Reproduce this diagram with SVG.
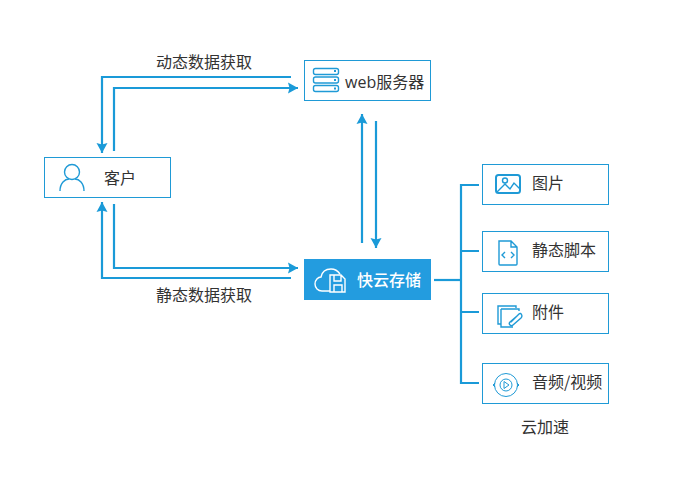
<svg xmlns="http://www.w3.org/2000/svg" width="682" height="479" viewBox="0 0 682 479">
<style>
text{font-family:"Open Sans","Noto Sans CJK SC",sans-serif;font-size:16px;fill:#333}
.cjk{font-family:"Noto Sans CJK SC",sans-serif}
.box{fill:#fff;stroke:#1f9ad6;stroke-width:1}
.c{fill:none;stroke:#1a9ad8;stroke-width:2.200}
.i{fill:none;stroke:#1f9ad6;stroke-width:1.400}
.w{fill:none;stroke:#fff;stroke-width:1.400}
</style>
<defs>
<marker id="a" markerUnits="userSpaceOnUse" markerWidth="12" markerHeight="12" refX="10" refY="6" orient="auto"><path d="M0 .5L10 6L0 11.500L1.500 6Z" fill="#1a9ad8"/></marker>
</defs>
<rect width="682" height="479" fill="#fff"/>
<g id="connectors">
<path class="c" d="M291 77H102V153" marker-end="url(#a)"/>
<path class="c" d="M114 151V88H298" marker-end="url(#a)"/>
<path class="c" d="M114 204V268H298" marker-end="url(#a)"/>
<path class="c" d="M291 278H102V202" marker-end="url(#a)"/>
<path class="c" d="M362 243V114" marker-end="url(#a)"/>
<path class="c" d="M376 121V248" marker-end="url(#a)"/>
<path class="c" d="M434 280H461"/>
<path class="c" d="M479 185H461V383H479M461 251H479M461 312H479"/>
</g>
<g id="label-dynamic"><text class="cjk" x="156" y="68">动态数据获取</text></g>
<g id="label-static"><text class="cjk" x="156" y="301">静态数据获取</text></g>
<g id="client">
<rect class="box" x="44.500" y="157.500" width="126" height="40"/>
<circle class="i" cx="72" cy="172" r="7.500"/>
<path class="i" d="M60 191C60 183 65 179 69 179M84 191C84 183 79 179 75 179"/>
<text class="cjk" x="104" y="184">客户</text>
</g>
<g id="web">
<rect class="box" x="304.500" y="60.500" width="126" height="40"/>
<g class="i"><rect x="313.500" y="68.500" width="25" height="6" rx="2"/><rect x="313.500" y="77" width="25" height="6" rx="2"/><rect x="313.500" y="85.500" width="25" height="6" rx="2"/></g>
<path d="M334 70h2v2h-2zM334 79h2v2h-2zM334 87.500h2v2h-2z" fill="#1f9ad6"/>
<text x="345" y="88" font-size="16">web<tspan class="cjk">服务器</tspan></text>
</g>
<g id="storage">
<rect x="304" y="259" width="127" height="41" fill="#239cdf"/>
<path class="w" d="M330 291H322C318 291 315 288 315 284C315 280 318 277 321 277C322 272 326 269 331 269C335 269 338 271 340 274"/>
<path class="w" d="M330 275H341L345 279V292H330ZM334 275V281H341V275M334 292V285H342V292"/>
<text class="cjk" x="357" y="286" style="fill:#fff;font-weight:500">快云存储</text>
</g>
<g id="image">
<rect class="box" x="482.500" y="164.500" width="126" height="40"/>
<rect x="496" y="175" width="24" height="18" rx="2.500" fill="none" stroke="#1f9ad6" stroke-width="2"/>
<circle class="i" cx="505" cy="180.500" r="2.500"/>
<path class="i" d="M497 192L505 184L510 189L514 183L520 189"/>
<text class="cjk" x="532" y="189">图片</text>
</g>
<g id="script">
<rect class="box" x="482.500" y="231.500" width="126" height="40"/>
<path class="i" d="M499 241H511L517 247V264Q517 265 516 265H500Q499 265 499 264ZM511 241V247H517"/>
<path class="i" stroke-width="2" d="M505 252L502 255L505 258M511 252L514 255L511 258"/>
<text class="cjk" x="532" y="256">静态脚本</text>
</g>
<g id="attachment">
<rect class="box" x="482.500" y="293.500" width="126" height="40"/>
<path class="i" d="M501 324H498V306H516V308M501 309H519V311M501 309V327H513"/>
<path class="i" d="M511 322L519 314C521 312 523 316 521 318L513 325C511 327 508 324 510 322L517 316"/>
<text class="cjk" x="532" y="318">附件</text>
</g>
<g id="media">
<rect class="box" x="482.500" y="363.500" width="126" height="40"/>
<circle cx="506" cy="385" r="11.500" fill="none" stroke="#1f9ad6" stroke-width="1"/>
<circle cx="506" cy="385" r="6" fill="none" stroke="#1f9ad6" stroke-width="1"/>
<path d="M504 381.500L509 385L504 388.500Z" fill="none" stroke="#1f9ad6"/>
<path d="M495 383L493 385L495 387M517 383L519 385L517 387" fill="none" stroke="#1f9ad6"/>
<text class="cjk" x="532" y="388">音频/视频</text>
</g>
<g id="label-cdn"><text class="cjk" x="521" y="433">云加速</text></g>
</svg>
